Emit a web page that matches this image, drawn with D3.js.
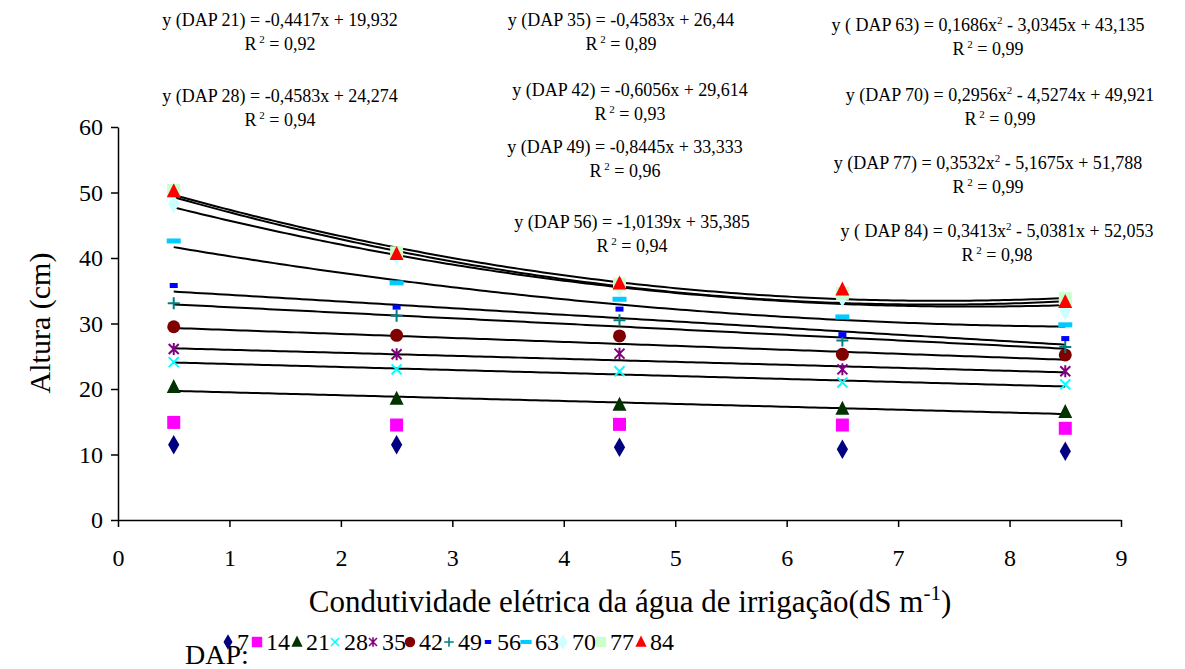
<!DOCTYPE html>
<html lang="en">
<head>
<meta charset="UTF-8">
<script src="https://d3js.org/d3.v7.min.js"></script>
<style>
  body { margin: 0; background: #fff; }
  .axis path, .axis line { stroke: #000; stroke-width: 1.5px; }
  .trend { fill: none; stroke: #000; stroke-width: 2px; }
</style>
</head>
<body>
<script>
// x values (condutividade elétrica, dS m-1)
var ceLevels = [0.5, 2.5, 4.5, 6.5, 8.5];

// DAP series names
var daps = ["7", "14", "21", "28", "35", "42", "49", "56", "63", "70", "77", "84"];

// altura (cm) per DAP
var alt7  = [11.5, 11.5, 11.1, 10.8, 10.5];
var alt14 = [14.9, 14.5, 14.6, 14.5, 14.0];
var alt21 = [20.3, 18.5, 17.6, 17.0, 16.5];
var alt28 = [24.1, 23.0, 22.7, 21.0, 20.7];
var alt35 = [26.1, 25.3, 25.4, 23.0, 22.7];
var alt42 = [29.5, 28.2, 28.1, 25.3, 25.2];
var alt49 = [33.1, 31.2, 30.5, 27.4, 26.4];
var alt56 = [35.8, 32.5, 32.2, 28.3, 27.7];
var alt63 = [42.6, 36.2, 33.7, 31.0, 29.8];
var alt70 = [48.3, 40.3, 35.6, 34.0, 32.0];
var alt77 = [50.3, 40.8, 36.0, 34.6, 33.8];
var alt84 = [50.2, 40.6, 36.1, 35.2, 33.3];
var alturas = [alt7, alt14, alt21, alt28, alt35, alt42, alt49, alt56, alt63, alt70, alt77, alt84];

// fitted equations printed on the chart: y = a x^2 + b x + c
var fitDap = ["21", "28", "35", "42", "49", "56", "63", "70", "77", "84"];
var fitA   = [0, 0, 0, 0, 0, 0, 0.1686, 0.2956, 0.3532, 0.3413];
var fitB   = [-0.4417, -0.4583, -0.4583, -0.6056, -0.8445, -1.0139, -3.0345, -4.5274, -5.1675, -5.0381];
var fitC   = [19.932, 24.274, 26.44, 29.614, 33.333, 35.385, 43.135, 49.921, 51.788, 52.053];
var fitR2  = ["0,92", "0,94", "0,89", "0,93", "0,96", "0,94", "0,99", "0,99", "0,99", "0,98"];
var eqText = [
  "y (DAP  21) = -0,4417x + 19,932",
  "y (DAP  28) = -0,4583x + 24,274",
  "y (DAP  35) = -0,4583x + 26,44",
  "y (DAP  42) = -0,6056x + 29,614",
  "y (DAP  49)  = -0,8445x + 33,333",
  "y (DAP  56) = -1,0139x + 35,385",
  "y ( DAP  63) = 0,1686x^2 - 3,0345x + 43,135",
  "y (DAP  70) = 0,2956x^2 - 4,5274x + 49,921",
  "y (DAP  77) = 0,3532x^2 - 5,1675x + 51,788",
  "y ( DAP  84) = 0,3413x^2 - 5,0381x + 52,053"
];

var xTicks = [0, 1, 2, 3, 4, 5, 6, 7, 8, 9];
var yTicks = [0, 10, 20, 30, 40, 50, 60];

var colors = ["#000080", "#FF00FF", "#003300", "#00FFFF", "#800080", "#800000",
              "#008080", "#0000FF", "#00CCFF", "#CCFFFF", "#CCFFCC", "#FF0000"];
var shapes = ["diamond", "square", "triangle", "x", "star", "circle",
              "plus", "shortdash", "longdash", "diamond", "square", "triangle"];

var serif = "Times New Roman";

var margin = { top: 127, left: 118 },
    width = 1003, height = 393;

var svg = d3.select("body").append("svg")
    .attr("width", 1185).attr("height", 669)
    .attr("font-family", serif);

var g = svg.append("g")
    .attr("transform", "translate(" + margin.left + "," + margin.top + ")");

var x = d3.scaleLinear().domain([0, 9]).range([0, width]);
var y = d3.scaleLinear().domain([0, 60]).range([height, 0]);

// axes
var xAxis = g.append("g").attr("class", "axis")
    .attr("transform", "translate(0," + height + ")")
    .call(d3.axisBottom(x).tickValues(xTicks).tickSize(7).tickSizeOuter(0).tickPadding(22))
    .attr("font-family", serif).attr("font-size", 24);
xAxis.selectAll("text").attr("fill", "#000");

var yAxis = g.append("g").attr("class", "axis")
    .call(d3.axisLeft(y).tickValues(yTicks).tickSize(7).tickSizeOuter(0).tickPadding(8))
    .attr("font-family", serif).attr("font-size", 24);
yAxis.selectAll("text").attr("fill", "#000");

// marker drawing
function drawMarker(sel, shape, color, s) {
  s = s || 1;
  if (shape === "diamond") {
    sel.append("path").attr("d", d3.symbol().type(d3.symbolDiamond).size(110 * s * s)).attr("fill", color);
  } else if (shape === "square") {
    sel.append("rect").attr("x", -6.5 * s).attr("y", -6.5 * s)
      .attr("width", 13 * s).attr("height", 13 * s).attr("fill", color);
  } else if (shape === "triangle") {
    sel.append("path").attr("d", "M0," + (-8 * s) + "L" + (7 * s) + "," + (6 * s) + "L" + (-7 * s) + "," + (6 * s) + "Z")
      .attr("fill", color);
  } else if (shape === "circle") {
    sel.append("circle").attr("r", 6.5 * s).attr("fill", color);
  } else if (shape === "x") {
    sel.append("path").attr("d", "M-5,-5L5,5M-5,5L5,-5")
      .attr("stroke", color).attr("stroke-width", 2).attr("transform", "scale(" + s + ")");
  } else if (shape === "star") {
    sel.append("path").attr("d", "M-5,-5L5,5M-5,5L5,-5M0,-6L0,6")
      .attr("stroke", color).attr("stroke-width", 2).attr("transform", "scale(" + s + ")");
  } else if (shape === "plus") {
    sel.append("path").attr("d", "M-6,0L6,0M0,-6L0,6")
      .attr("stroke", color).attr("stroke-width", 2).attr("transform", "scale(" + s + ")");
  } else if (shape === "shortdash") {
    sel.append("rect").attr("x", -4 * s).attr("y", -2.5 * s)
      .attr("width", 8 * s).attr("height", 5 * s).attr("fill", color);
  } else if (shape === "longdash") {
    sel.append("rect").attr("x", -7 * s).attr("y", -2.5 * s)
      .attr("width", 14 * s).attr("height", 5 * s).attr("fill", color);
  }
}

// trend lines / curves over the data range
var xsFine = d3.range(0.5, 8.5001, 0.05);
var trendLine = d3.line().x(function (d) { return x(d[0]); }).y(function (d) { return y(d[1]); });
fitDap.forEach(function (dap, i) {
  var pts = xsFine.map(function (v) {
    return [v, fitA[i] * v * v + fitB[i] * v + fitC[i]];
  });
  g.append("path").attr("class", "trend").attr("d", trendLine(pts));
});

// data markers
daps.forEach(function (dap, i) {
  alturas[i].forEach(function (v, j) {
    var m = g.append("g")
        .attr("transform", "translate(" + x(ceLevels[j]) + "," + y(v) + ")");
    drawMarker(m, shapes[i], colors[i]);
  });
});

// equation labels
var eqPos = [[280, 26], [280, 102], [621, 26], [630, 96], [625, 153], [632, 228],
             [988, 31], [1000, 101], [988, 169], [997, 237]];
eqText.forEach(function (t, i) {
  var tx = svg.append("text")
      .attr("x", eqPos[i][0]).attr("y", eqPos[i][1])
      .attr("text-anchor", "middle")
      .attr("font-size", 18);
  var parts = t.split("^2");
  parts.forEach(function (p, k) {
    tx.append("tspan").text(p);
    if (k < parts.length - 1) {
      tx.append("tspan").attr("dy", -7).attr("font-size", 11).text("2");
      tx.append("tspan").attr("dy", 7).text(" ");
    }
  });
  var r = svg.append("text")
      .attr("x", eqPos[i][0]).attr("y", eqPos[i][1] + 24)
      .attr("text-anchor", "middle")
      .attr("font-size", 18);
  r.append("tspan").text("R");
  r.append("tspan").attr("dy", -7).attr("font-size", 11).text(" 2");
  r.append("tspan").attr("dy", 7).text(" = " + fitR2[i]);
});

// axis titles
svg.append("text")
    .attr("transform", "translate(50,323) rotate(-90)")
    .attr("text-anchor", "middle")
    .attr("font-size", 30)
    .text("Altura (cm)");

var xl = svg.append("text")
    .attr("x", 630).attr("y", 612)
    .attr("text-anchor", "middle")
    .attr("font-size", 31);
xl.append("tspan").text("Condutividade elétrica da água de irrigação(dS m");
xl.append("tspan").attr("dy", -12).attr("font-size", 21).text("-1");
xl.append("tspan").attr("dy", 12).text(")");

// legend
svg.append("text")
    .attr("x", 185).attr("y", 664)
    .attr("font-size", 28)
    .text("DAP:");
var legX = [228, 257, 297, 335, 373, 410, 449, 488, 526, 563, 601, 641];
daps.forEach(function (dap, i) {
  var lg = svg.append("g").attr("transform", "translate(" + legX[i] + ",642)");
  drawMarker(lg, shapes[i], colors[i], 0.8);
  svg.append("text")
      .attr("x", legX[i] + 9).attr("y", 650)
      .attr("font-size", 24)
      .text(dap);
});
</script>
</body>
</html>
